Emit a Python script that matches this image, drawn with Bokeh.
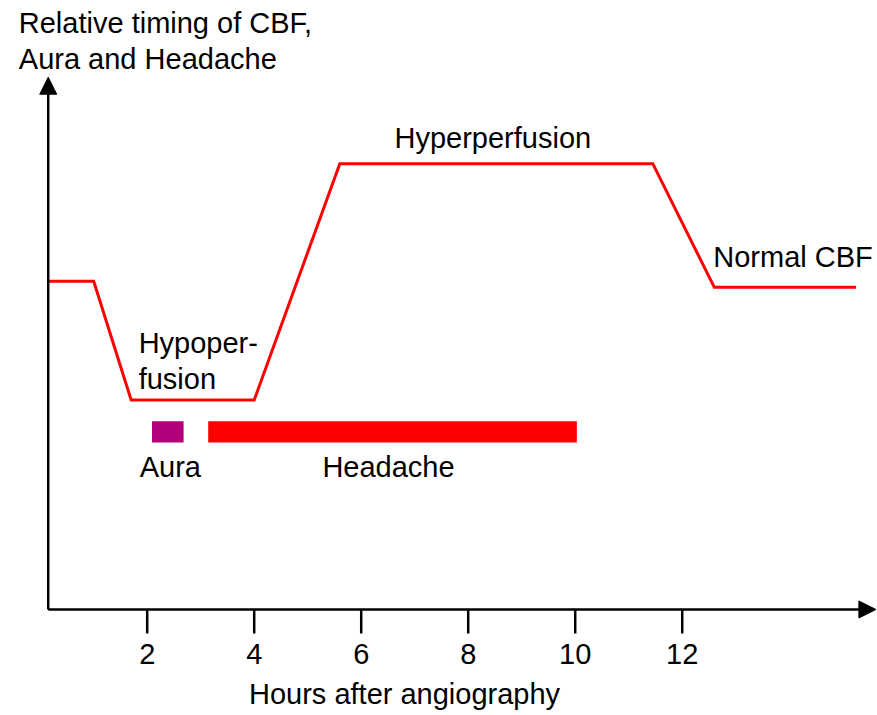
from bokeh.plotting import figure
from bokeh.models import Range1d, Arrow, NormalHead, ColumnDataSource
from bokeh.core.properties import value
from bokeh.embed import file_html
from bokeh.resources import INLINE

# --- data ---
cbf_hours = [0.15, 1.0, 1.7, 4.0, 5.6, 11.45, 12.6, 15.25]
cbf_level = [53.9, 53.9, 34.4, 34.4, 73.2, 73.2, 52.9, 52.9]

event_names = ["Aura", "Headache"]
event_start = [2.09, 3.14]
event_end = [2.68, 10.03]
event_low = [27.4, 27.4]
event_high = [30.9, 30.9]
event_colors = ["#B0007A", "#FF0000"]

tick_hours = [2, 4, 6, 8, 10, 12]
tick_labels = ["2", "4", "6", "8", "10", "12"]

phase_text = ["Hyperperfusion", "Normal CBF", "Hypoper-", "fusion", "Aura", "Headache"]
phase_x = [8.46, 12.58, 1.84, 1.84, 1.86, 6.51]
phase_y = [77.46, 57.86, 43.76, 37.86, 23.46, 23.46]
phase_align = ["center", "left", "left", "left", "left", "center"]

title_lines = ["Relative timing of CBF,", "Aura and Headache"]
title_x = [-0.40, -0.40]
title_y = [96.36, 90.36]

x_label = ["Hours after angiography"]
x_label_x = [6.81]
x_label_y = [-13.94]

FONT = "Liberation Sans"
FS = "29px"

p = figure(width=877, height=715, output_backend="svg", toolbar_location=None,
           x_range=Range1d(-0.742, 15.65), y_range=Range1d(-17.41, 100),
           x_axis_location=None, y_axis_location=None,
           min_border_left=0, min_border_right=0, min_border_top=0, min_border_bottom=0)
p.outline_line_color = None
p.grid.visible = False
p.background_fill_color = "white"
p.border_fill_color = "white"

# axis arrows
p.add_layout(Arrow(end=NormalHead(size=17, fill_color="black", line_color="black"),
                   x_start=cbf_hours[0], y_start=0, x_end=15.62, y_end=0,
                   line_color="black", line_width=2.5))
p.add_layout(Arrow(end=NormalHead(size=17, fill_color="black", line_color="black"),
                   x_start=cbf_hours[0], y_start=0, x_end=cbf_hours[0], y_end=87.4,
                   line_color="black", line_width=2.5))

# x ticks and tick labels
p.segment(x0=tick_hours, y0=[0] * len(tick_hours), x1=tick_hours,
          y1=[-3.94] * len(tick_hours), line_color="black", line_width=2.5)
p.text(x=tick_hours, y=[-7.31] * len(tick_hours), text=tick_labels, text_align="center",
       text_baseline="alphabetic", text_font=value(FONT), text_font_size=FS,
       text_color="black")

# CBF line
p.line(cbf_hours, cbf_level, line_color="#FF0000", line_width=3, line_join="miter")

# event bars
ev = ColumnDataSource(dict(left=event_start, right=event_end, bottom=event_low,
                           top=event_high, color=event_colors))
p.quad(left="left", right="right", bottom="bottom", top="top", fill_color="color",
       line_color=None, source=ev)

# labels
txt = ColumnDataSource(dict(x=phase_x, y=phase_y, text=phase_text, align=phase_align))
p.text(x="x", y="y", text="text", text_align="align", text_baseline="alphabetic",
       text_font=value(FONT), text_font_size=FS, text_color="black", source=txt)

p.text(x=title_x, y=title_y, text=title_lines, text_align="left", text_baseline="alphabetic",
       text_font=value(FONT), text_font_size=FS, text_color="black")

p.text(x=x_label_x, y=x_label_y, text=x_label, text_align="center",
       text_baseline="alphabetic", text_font=value(FONT), text_font_size=FS,
       text_color="black")

open("out.html", "w").write(file_html(p, INLINE))
